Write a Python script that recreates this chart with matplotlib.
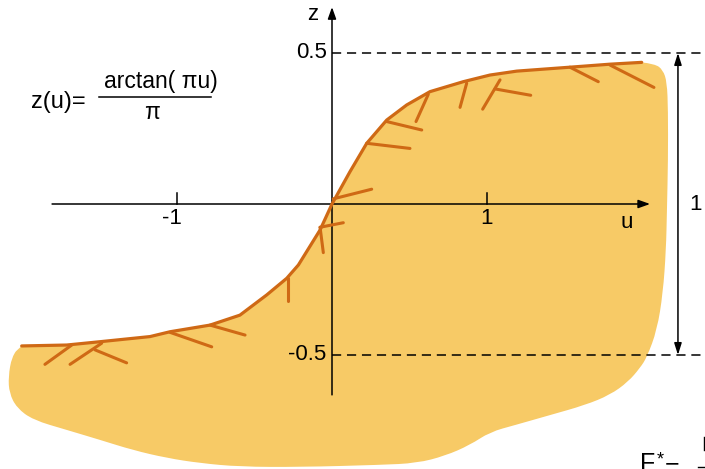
import matplotlib
matplotlib.use("Agg")
import matplotlib.pyplot as plt
from matplotlib.patches import PathPatch
from matplotlib.path import Path

plt.rcParams['font.family'] = ['Liberation Sans', 'DejaVu Sans']

# arctan-like response curve z(u)
curve_u = [-2.002, -1.712, -1.497, -1.174, -1.045, -0.787, -0.594, -0.421, -0.292,
           -0.217, -0.077, 0.0, 0.116, 0.224, 0.353, 0.482, 0.632, 0.847, 1.019,
           1.192, 1.535, 1.794, 1.998]
curve_z = [-0.470, -0.467, -0.456, -0.439, -0.423, -0.401, -0.368, -0.301, -0.246,
           -0.202, -0.086, 0.0, 0.107, 0.201, 0.278, 0.328, 0.372, 0.405, 0.427,
           0.440, 0.453, 0.463, 0.469]

# lower/right outline of the shaded region (continues from the curve's right end)
region_u = [2.084, 2.135, 2.161, 2.168, 2.168, 2.161, 2.155, 2.135, 2.097, 2.032,
            1.987, 1.910, 1.794, 1.632, 1.406, 1.181, 1.019, 0.890, 0.729, 0.548,
            0.310, -0.206, -0.594, -0.852, -1.066, -1.284, -1.497, -1.712, -1.929,
            -2.034, -2.082, -2.088, -2.066, -2.013]
region_z = [0.464, 0.444, 0.404, 0.311, 0.146, -0.020, -0.152, -0.295, -0.417, -0.507,
            -0.543, -0.589, -0.632, -0.666, -0.699, -0.732, -0.755, -0.798, -0.834, -0.858,
            -0.864, -0.871, -0.870, -0.858, -0.841, -0.815, -0.781, -0.748, -0.715,
            -0.675, -0.626, -0.572, -0.506, -0.470]

# hatch strokes on the inner side of the curve: (u0, z0, u1, z1)
hatch_u0 = [0.008, 0.224, 0.353, 0.621, 0.869, 1.084, 1.052, 1.535, 1.794,
            -0.077, -0.077, -0.282, -0.787, -1.045, -1.679, -1.486, -1.529]
hatch_z0 = [0.017, 0.201, 0.273, 0.363, 0.400, 0.411, 0.381, 0.453, 0.460,
            -0.077, -0.077, -0.246, -0.401, -0.425, -0.467, -0.461, -0.483]
hatch_u1 = [0.256, 0.503, 0.579, 0.542, 0.826, 0.972, 1.282, 1.718, 2.077,
            0.073, -0.056, -0.282, -0.561, -0.776, -1.852, -1.690, -1.325]
hatch_z1 = [0.049, 0.184, 0.245, 0.273, 0.320, 0.314, 0.360, 0.405, 0.386,
            -0.062, -0.161, -0.321, -0.434, -0.473, -0.531, -0.531, -0.526]

u_ticks = [-1, 1]
u_tick_labels = ['-1', '1']
z_levels = [0.5, -0.5]
z_level_labels = ['0.5', '-0.5']

FILL = '#F7CA66'
LINE = '#CF6915'
FS = 16

fig = plt.figure(figsize=(7.05, 4.69), dpi=100)
ax = fig.add_axes([0, 0, 1, 1])
ax.set_xlim(-332 / 155, 373 / 155)
ax.set_ylim(-265 / 302, 204 / 302)
ax.axis('off')

# shaded region: straight segments along the curve, then a smooth
# quadratic outline through the remaining boundary points
verts = list(zip(curve_u, curve_z))
codes = [Path.MOVETO] + [Path.LINETO] * (len(curve_u) - 1)
pts = [verts[-1]] + list(zip(region_u, region_z))
for i in range(1, len(pts) - 1):
    mid = ((pts[i][0] + pts[i + 1][0]) / 2, (pts[i][1] + pts[i + 1][1]) / 2)
    verts += [pts[i], mid]
    codes += [Path.CURVE3, Path.CURVE3]
verts.append(verts[0])
codes.append(Path.CLOSEPOLY)
ax.add_patch(PathPatch(Path(verts, codes), facecolor=FILL, edgecolor='none', zorder=1))

# dashed levels and axes
for zl in z_levels:
    ax.plot([0, 2.41], [zl, zl], color='black', lw=1.1, dashes=(6, 3.8), zorder=2)

ax.annotate('', xy=(2.052, 0), xytext=(-1.806, 0),
            arrowprops=dict(arrowstyle='-|>,head_length=0.7,head_width=0.25',
                            color='black', lw=1.1, shrinkA=0, shrinkB=0), zorder=3)
ax.annotate('', xy=(0, 0.652), xytext=(0, -0.632),
            arrowprops=dict(arrowstyle='-|>,head_length=0.7,head_width=0.25',
                            color='black', lw=1.1, shrinkA=0, shrinkB=0), zorder=3)
for ut in u_ticks:
    ax.plot([ut, ut], [0, 0.036], color='black', lw=1.1, zorder=3)

# unit-height double arrow
ax.annotate('', xy=(2.232, z_levels[0]), xytext=(2.232, z_levels[1]),
            arrowprops=dict(arrowstyle='<|-|>,head_length=0.7,head_width=0.22',
                            color='black', lw=1.1, shrinkA=0, shrinkB=0), zorder=3)
ax.text(2.342, -0.003, '1', fontsize=FS, ha='center', va='center')

# curve and hatching
for a, b, c, d in zip(hatch_u0, hatch_z0, hatch_u1, hatch_z1):
    ax.plot([a, c], [b, d], color=LINE, lw=2.2, solid_capstyle='round', zorder=4)
ax.plot(curve_u, curve_z, color=LINE, lw=2.3, solid_capstyle='round',
        solid_joinstyle='round', zorder=5)

# tick labels and axis names
for ut, lab in zip(u_ticks, u_tick_labels):
    dx = -0.035 if lab.startswith('-') else 0.0
    ax.text(ut + dx, -0.048, lab, fontsize=FS, ha='center', va='center')
for zl, lab in zip(z_levels, z_level_labels):
    ax.text(-0.035, zl, lab, fontsize=FS, ha='right', va='center')
ax.text(1.903, -0.062, 'u', fontsize=FS, ha='center', va='center')
ax.text(-0.123, 0.628, 'z', fontsize=FS, ha='center', va='center')

# formula
ax.text(-1.765, 0.339, 'z(u)=', fontsize=FS + 1, ha='center', va='center')
ax.text(-1.103, 0.405, 'arctan( \u03c0u)', fontsize=FS + 0.5, ha='center', va='center')
ax.plot([-1.503, -0.781], [0.355, 0.355], color='black', lw=1.1)
ax.text(-1.163, 0.304, '\u03c0', fontsize=FS + 0.5, ha='center', va='center')

# F* expression at the lower edge
ax.text(1.987, -0.822, 'F', fontsize=FS + 2, ha='left', va='top')
ax.text(2.095, -0.818, '*', fontsize=FS - 3, ha='left', va='top')
ax.text(2.145, -0.835, '=', fontsize=FS + 2, ha='left', va='top')
ax.plot([2.400, 2.400], [-0.771, -0.815], color='black', lw=1.0)
ax.plot([2.361, 2.406], [-0.871, -0.871], color='black', lw=1.0)

fig.savefig('out.png', dpi=100)
